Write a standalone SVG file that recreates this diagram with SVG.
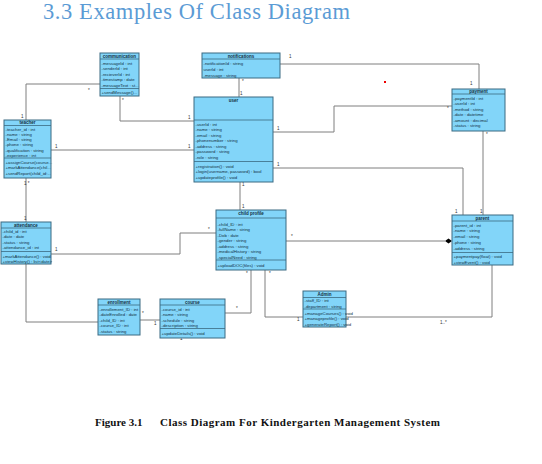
<svg xmlns="http://www.w3.org/2000/svg" width="542" height="464" viewBox="0 0 542 464">
<style>
.box{fill:#82d5f9;stroke:#3b6a82;stroke-width:1}
.sep{stroke:#3b6a82;stroke-width:0.8}
.t{font-family:"Liberation Sans",Arial,sans-serif;font-size:4.3px;fill:#12303f}
.h{font-family:"Liberation Sans",Arial,sans-serif;font-size:4.5px;font-weight:bold;fill:#12303f;text-anchor:middle}
.c{fill:none;stroke:#7f7f7f;stroke-width:1}
.l{font-family:"Liberation Sans",Arial,sans-serif;font-size:4.5px;fill:#333}
</style>
<rect width="542" height="464" fill="#fff"/>
<text x="43" y="19" font-family="Liberation Serif,serif" font-size="22.5" fill="#5b9bd5" textLength="307">3.3 Examples Of Class Diagram</text>

<g id="connectors">
<path class="c" d="M239,78V97"/>
<path class="c" d="M280,64H479V89"/>
<path class="c" d="M273,132H334V106H452"/>
<path class="c" d="M273,168H463V215"/>
<path class="c" d="M483,131V215"/>
<path class="c" d="M120,96V121H194"/>
<path class="c" d="M100,84H26V120"/>
<path class="c" d="M51,150H194"/>
<path class="c" d="M26,178V222"/>
<path class="c" d="M51,254H180V233H216"/>
<path class="c" d="M98,322H26V264"/>
<path class="c" d="M140,320H160"/>
<path class="c" d="M225,313H251V270"/>
<path class="c" d="M265,270V317H303"/>
<path class="c" d="M346,317H492V265"/>
<path class="c" d="M286,241H445"/>
<path d="M445,241L448.5,238.5L452,241L448.5,243.5Z" fill="#000"/>
<path class="c" d="M240,182V210"/>
<text class="l" x="242" y="83">*</text><text class="l" x="240" y="95">1</text>
<text class="l" x="289" y="58">1</text><text class="l" x="470" y="85">1</text>
<text class="l" x="277" y="130">1</text><text class="l" x="447" y="110">*</text>
<text class="l" x="277" y="166">1</text><text class="l" x="455" y="213">1</text>
<text class="l" x="486" y="136">*</text><text class="l" x="480" y="213">1</text>
<text class="l" x="122" y="102">*</text><text class="l" x="188" y="119">1</text>
<text class="l" x="88" y="92">*</text><text class="l" x="21" y="118">1</text>
<text class="l" x="55" y="148">1</text><text class="l" x="188" y="148">1</text>
<text class="l" x="24" y="185">1 *</text><text class="l" x="24" y="220">1</text>
<text class="l" x="55" y="251">1</text><text class="l" x="208" y="231">*</text>
<text class="l" x="142" y="315">*</text><text class="l" x="154" y="325">1</text>
<text class="l" x="236" y="310">*</text><text class="l" x="246" y="275">*</text>
<text class="l" x="269" y="275">*</text><text class="l" x="297" y="321">1</text>
<text class="l" x="440" y="324">1..*</text>
<text class="l" x="291" y="238">*</text>
<text class="l" x="242" y="186">1</text><text class="l" x="242" y="208">1</text>
<text class="l" x="180" y="340">1</text>
</g>
<rect x="384" y="81" width="2" height="2" fill="#e00"/>

<g id="communication">
<rect class="box" x="100" y="53" width="39" height="43"/>
<line class="sep" x1="100" y1="59" x2="139" y2="59"/>
<line class="sep" x1="100" y1="88.5" x2="139" y2="88.5"/>
<text class="h" x="119.5" y="57.5">communication</text>
<text class="t" x="101.5" y="64.5">-messageId : int</text>
<text class="t" x="101.5" y="70">-senderId : int</text>
<text class="t" x="101.5" y="75.5">-recieverId : int</text>
<text class="t" x="101.5" y="81">-timestamp : date</text>
<text class="t" x="101.5" y="86.5">-messageText : st...</text>
<text class="t" x="101.5" y="94">+sendMessage()...</text>
</g>

<g id="notifications">
<rect class="box" x="202" y="53" width="78" height="25"/>
<line class="sep" x1="202" y1="59" x2="280" y2="59"/>
<text class="h" x="241" y="57.5">notifications</text>
<text class="t" x="203.5" y="64.5">-notificationId : string</text>
<text class="t" x="203.5" y="70.5">userId : int</text>
<text class="t" x="203.5" y="76.5">-message : string</text>
</g>

<g id="user">
<rect class="box" x="194" y="97" width="79" height="85"/>
<line class="sep" x1="194" y1="120" x2="273" y2="120"/>
<line class="sep" x1="194" y1="161.5" x2="273" y2="161.5"/>
<text class="h" x="233.5" y="102">user</text>
<text class="t" x="195.5" y="125.5">-userId : int</text>
<text class="t" x="195.5" y="131">-name : string</text>
<text class="t" x="195.5" y="136.5">-email : string</text>
<text class="t" x="195.5" y="142">-phonenumber : string</text>
<text class="t" x="195.5" y="147.5">-address : string</text>
<text class="t" x="195.5" y="153">-password : string</text>
<text class="t" x="195.5" y="158.5">-role : string</text>
<text class="t" x="195.5" y="167.5">+registration() : void</text>
<text class="t" x="195.5" y="173">+login(username, password) : bool</text>
<text class="t" x="195.5" y="178.5">+updateprofile() : void</text>
</g>

<g id="teacher">
<rect class="box" x="4" y="120" width="47" height="58"/>
<line class="sep" x1="4" y1="125.5" x2="51" y2="125.5"/>
<line class="sep" x1="4" y1="158" x2="51" y2="158"/>
<text class="h" x="27.5" y="124.3">teacher</text>
<text class="t" x="5.5" y="130.5">-teacher_id : int</text>
<text class="t" x="5.5" y="135.8">-name : string</text>
<text class="t" x="5.5" y="141.1">-Email : string</text>
<text class="t" x="5.5" y="146.4">-phone : string</text>
<text class="t" x="5.5" y="151.7">-qualification : string</text>
<text class="t" x="5.5" y="157">-experience : int</text>
<text class="t" x="5.5" y="163.5">+assignCourse(course...</text>
<text class="t" x="5.5" y="169">+markAttendance(chil...</text>
<text class="t" x="5.5" y="174.5">+sendReport(child_id:...</text>
</g>

<g id="payment">
<rect class="box" x="452" y="89" width="53" height="42"/>
<line class="sep" x1="452" y1="94" x2="505" y2="94"/>
<text class="h" x="478.5" y="93">payment</text>
<text class="t" x="453.5" y="99.5">-paymentId : int</text>
<text class="t" x="453.5" y="105">-userId : int</text>
<text class="t" x="453.5" y="110.5">-method : string</text>
<text class="t" x="453.5" y="116">-date : datetime</text>
<text class="t" x="453.5" y="121.5">-amount : decimal</text>
<text class="t" x="453.5" y="127">-status : string</text>
</g>

<g id="child-profile">
<rect class="box" x="216" y="210" width="70" height="60"/>
<line class="sep" x1="216" y1="218" x2="286" y2="218"/>
<line class="sep" x1="216" y1="260" x2="286" y2="260"/>
<text class="h" x="251" y="215">child profile</text>
<text class="t" x="217.5" y="225.5">-child_ID : int</text>
<text class="t" x="217.5" y="231">-fullName : string</text>
<text class="t" x="217.5" y="236.5">-Dob : date</text>
<text class="t" x="217.5" y="242">-gender : string</text>
<text class="t" x="217.5" y="247.5">-address : string</text>
<text class="t" x="217.5" y="253">-medicalHistory : string</text>
<text class="t" x="217.5" y="258.5">-specialNeed : string</text>
<text class="t" x="217.5" y="266.5">+uploadDOC(files) : void</text>
</g>

<g id="attendance">
<rect class="box" x="1" y="222" width="50" height="42"/>
<line class="sep" x1="1" y1="228" x2="51" y2="228"/>
<line class="sep" x1="1" y1="251.5" x2="51" y2="251.5"/>
<text class="h" x="26" y="226.8">attendance</text>
<text class="t" x="2.5" y="232.5">-child_id : int</text>
<text class="t" x="2.5" y="238">-date : date</text>
<text class="t" x="2.5" y="243.5">-status : string</text>
<text class="t" x="2.5" y="249">-attendance_id : int</text>
<text class="t" x="2.5" y="257.5">+markAttendance() : void</text>
<text class="t" x="2.5" y="263">+viewHistory() : list&lt;date&gt;</text>
</g>

<g id="parent">
<rect class="box" x="452" y="215" width="61" height="50"/>
<line class="sep" x1="452" y1="221" x2="513" y2="221"/>
<line class="sep" x1="452" y1="252.5" x2="513" y2="252.5"/>
<text class="h" x="482.5" y="219.8">parent</text>
<text class="t" x="453.5" y="226.5">-parent_id : int</text>
<text class="t" x="453.5" y="232.3">-name : string</text>
<text class="t" x="453.5" y="238.1">-email : string</text>
<text class="t" x="453.5" y="243.9">-phone : string</text>
<text class="t" x="453.5" y="249.7">-address : string</text>
<text class="t" x="453.5" y="258">+paymentpay(float) : void</text>
<text class="t" x="453.5" y="263.5">+viewEvent() : void</text>
</g>

<g id="enrollment">
<rect class="box" x="98" y="299" width="42" height="36"/>
<line class="sep" x1="98" y1="305" x2="140" y2="305"/>
<text class="h" x="119" y="303.5">enrollment</text>
<text class="t" x="99.5" y="310.5">-enrollement_ID : int</text>
<text class="t" x="99.5" y="316">-dateEnrolled : date</text>
<text class="t" x="99.5" y="321.5">-child_ID : int</text>
<text class="t" x="99.5" y="327">-course_ID : int</text>
<text class="t" x="99.5" y="332.5">-status : string</text>
</g>

<g id="course">
<rect class="box" x="160" y="299" width="65" height="39"/>
<line class="sep" x1="160" y1="305" x2="225" y2="305"/>
<line class="sep" x1="160" y1="328.5" x2="225" y2="328.5"/>
<text class="h" x="192.5" y="303.5">course</text>
<text class="t" x="161.5" y="310.5">-course_id : int</text>
<text class="t" x="161.5" y="316">-name : string</text>
<text class="t" x="161.5" y="321.5">-schedule : string</text>
<text class="t" x="161.5" y="327">-description : string</text>
<text class="t" x="161.5" y="334.5">+updateDetails() : void</text>
</g>

<g id="admin">
<rect class="box" x="303" y="291" width="43" height="36"/>
<line class="sep" x1="303" y1="297.5" x2="346" y2="297.5"/>
<line class="sep" x1="303" y1="309" x2="346" y2="309"/>
<text class="h" x="324.5" y="296">Admin</text>
<text class="t" x="304.5" y="302">-staff_ID : int</text>
<text class="t" x="304.5" y="307.5">-department : string</text>
<text class="t" x="304.5" y="314.5">+manageCourses() : void</text>
<text class="t" x="304.5" y="320">+manageprofile() : void</text>
<text class="t" x="304.5" y="325.5">+generateReport() : void</text>
</g>

<text x="95" y="426" font-family="Liberation Serif,serif" font-size="11" font-weight="bold" fill="#111">Figure 3.1</text>
<text x="160" y="426" font-family="Liberation Serif,serif" font-size="11" font-weight="bold" fill="#111" textLength="280">Class Diagram For Kindergarten Management System</text>
</svg>
